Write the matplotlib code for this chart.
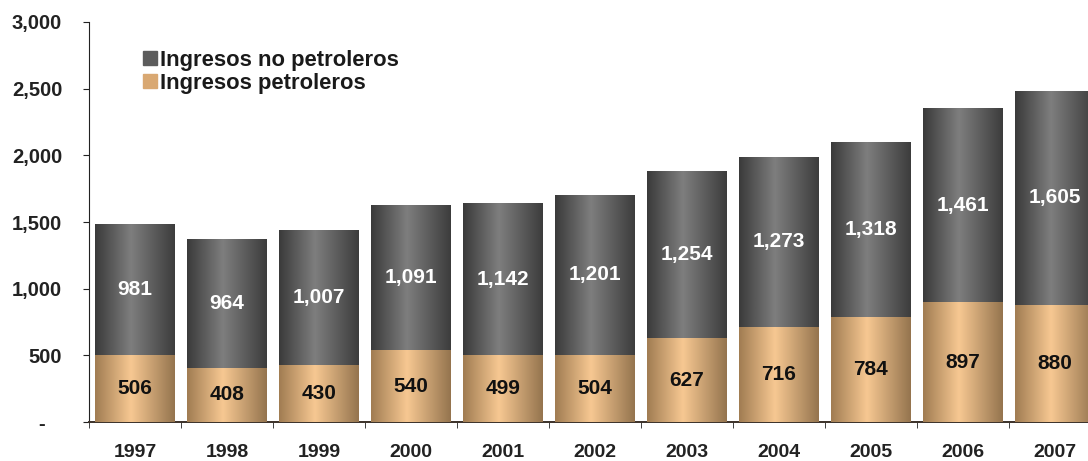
import numpy as np
import matplotlib
matplotlib.use("Agg")
import matplotlib.pyplot as plt
from matplotlib.colors import LinearSegmentedColormap
from matplotlib.lines import Line2D
from matplotlib.ticker import FixedLocator, FuncFormatter

years = ["1997", "1998", "1999", "2000", "2001", "2002", "2003", "2004", "2005", "2006", "2007"]
petroleros = [506, 408, 430, 540, 499, 504, 627, 716, 784, 897, 880]
no_petroleros = [981, 964, 1007, 1091, 1142, 1201, 1254, 1273, 1318, 1461, 1605]
legend_labels = ["Ingresos no petroleros", "Ingresos petroleros"]

plt.rcParams["font.family"] = ["Liberation Sans", "DejaVu Sans"]

fig = plt.figure(figsize=(10.88, 4.61), dpi=100)
ax = fig.add_axes([89 / 1088, 39 / 461, 999 / 1088, 400 / 461])

x = np.arange(len(years))
width = 0.86

tan_cmap = LinearSegmentedColormap.from_list(
    "tan", [(0.0, "#a07c52"), (0.45, "#f7c892"), (1.0, "#94744e")])
grey_cmap = LinearSegmentedColormap.from_list(
    "grey", [(0.0, "#3a3a3a"), (0.45, "#7e7e7e"), (1.0, "#3c3c3c")])

bars_pet = ax.bar(x, petroleros, width, color="#e0b07c", zorder=2)
bars_no = ax.bar(x, no_petroleros, width, bottom=petroleros, color="#5a5a5a", zorder=2)

# cylinder-like horizontal shading, clipped to each bar segment
grad = np.linspace(0, 1, 256).reshape(1, -1)
for bars, cmap in ((bars_pet, tan_cmap), (bars_no, grey_cmap)):
    for rect in bars.patches:
        x0, y0 = rect.get_x(), rect.get_y()
        w, h = rect.get_width(), rect.get_height()
        im = ax.imshow(grad, extent=[x0, x0 + w, y0, y0 + h], aspect="auto",
                       cmap=cmap, interpolation="bicubic", zorder=3)
        im.set_clip_path(rect)

for i in range(len(years)):
    ax.text(x[i], petroleros[i] / 2, f"{petroleros[i]:,}", ha="center", va="center",
            fontsize=15, fontweight="bold", color="#111111", zorder=4)
    ax.text(x[i], petroleros[i] + no_petroleros[i] / 2, f"{no_petroleros[i]:,}",
            ha="center", va="center", fontsize=15, fontweight="bold",
            color="white", zorder=4)

ax.set_xlim(-0.5, -0.5 + 999 / 92)
ax.set_ylim(0, 3000)

ax.spines["top"].set_visible(False)
ax.spines["right"].set_visible(False)
ax.spines["left"].set_color("#222222")
ax.spines["bottom"].set_color("#3a3028")
ax.spines["bottom"].set_linewidth(1.4)

ax.set_yticks(np.arange(0, 3001, 500))
ax.yaxis.set_major_formatter(FuncFormatter(lambda v, p: "-   " if v == 0 else f"{int(v):,}"))
ax.tick_params(axis="y", length=4.3, pad=15, labelsize=14.5, colors="#222222")
for lab in ax.get_yticklabels():
    lab.set_fontweight("bold")

ax.set_xticks(x)
ax.set_xticklabels(years, fontsize=14, fontweight="bold")
ax.tick_params(axis="x", which="major", length=0, pad=15.5, colors="#222222")
ax.xaxis.set_minor_locator(FixedLocator(np.arange(-0.5, len(years), 1.0)))
ax.tick_params(axis="x", which="minor", length=4, color="#222222")

handles = [
    Line2D([], [], marker="s", linestyle="none", markersize=10.5,
           markerfacecolor="#5c5c5c", markeredgecolor="#5c5c5c"),
    Line2D([], [], marker="s", linestyle="none", markersize=10.5,
           markerfacecolor="#d9a872", markeredgecolor="#d9a872"),
]
leg = ax.legend(handles, legend_labels, loc="upper left",
                bbox_to_anchor=(53 / 999, 0.93), frameon=False,
                prop={"size": 15.8, "weight": "bold"},
                handlelength=0.7, handletextpad=0.1, labelspacing=0.08,
                borderaxespad=0, borderpad=0)
for t in leg.get_texts():
    t.set_color("#1a1a1a")

fig.savefig("out.png", dpi=100, facecolor="white")
